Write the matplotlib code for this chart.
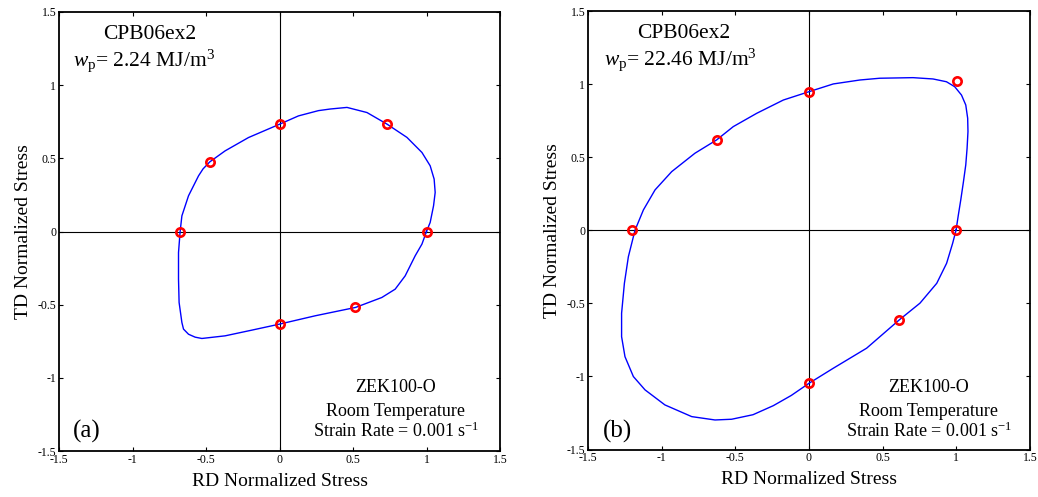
import matplotlib
matplotlib.use("Agg")
import matplotlib.pyplot as plt

plt.rcParams['font.family'] = ['Liberation Serif', 'DejaVu Serif']
plt.rcParams['mathtext.fontset'] = 'custom'
plt.rcParams['mathtext.rm'] = 'Liberation Serif'
plt.rcParams['mathtext.it'] = 'Liberation Serif:italic'
plt.rcParams['mathtext.bf'] = 'Liberation Serif:bold'

# Yield locus (CPB06ex2) at w_p = 2.24 MJ/m^3
locus_a_rd = [1.000, 1.025, 1.048, 1.059, 1.052, 1.025, 0.969, 0.867, 0.731, 0.595,
              0.459, 0.345, 0.265, 0.129, 0.000, -0.211, -0.370, -0.474, -0.520, -0.551,
              -0.619, -0.664, -0.676, -0.687, -0.687, -0.683, -0.664, -0.653, -0.619, -0.574,
              -0.528, -0.370, -0.188, 0.000, 0.243, 0.517, 0.696, 0.787, 0.855, 0.923,
              0.969, 1.000]
locus_a_td = [0.000, 0.062, 0.176, 0.267, 0.358, 0.449, 0.540, 0.643, 0.734, 0.813,
              0.848, 0.837, 0.826, 0.790, 0.733, 0.642, 0.551, 0.476, 0.428, 0.380,
              0.244, 0.107, 0.000, -0.144, -0.326, -0.485, -0.622, -0.667, -0.702, -0.722,
              -0.731, -0.713, -0.674, -0.633, -0.576, -0.519, -0.451, -0.394, -0.303, -0.166,
              -0.086, 0.000]
exp_a_rd = [1.000, 0.731, 0.000, -0.474, -0.676, 0.000, 0.517]
exp_a_td = [0.000, 0.734, 0.733, 0.476, 0.000, -0.633, -0.519]

# Yield locus (CPB06ex2) at w_p = 22.46 MJ/m^3
locus_b_rd = [0.998, 1.013, 1.030, 1.048, 1.064, 1.073, 1.079, 1.077, 1.064, 1.035,
              0.989, 0.933, 0.842, 0.706, 0.480, 0.346, 0.165, 0.000, -0.174, -0.355,
              -0.514, -0.627, -0.774, -0.932, -1.045, -1.124, -1.181, -1.226, -1.253, -1.272,
              -1.272, -1.249, -1.192, -1.113, -0.978, -0.796, -0.638, -0.525, -0.380, -0.242,
              -0.120, 0.000, 0.165, 0.391, 0.613, 0.753, 0.867, 0.934, 0.975, 0.998]
locus_b_td = [0.000, 0.100, 0.207, 0.330, 0.447, 0.561, 0.675, 0.766, 0.857, 0.925,
              0.982, 1.016, 1.035, 1.044, 1.040, 1.028, 1.001, 0.948, 0.891, 0.800,
              0.709, 0.618, 0.527, 0.401, 0.276, 0.139, 0.000, -0.181, -0.363, -0.568,
              -0.728, -0.865, -1.001, -1.092, -1.195, -1.275, -1.298, -1.293, -1.262, -1.200,
              -1.130, -1.047, -0.944, -0.807, -0.613, -0.499, -0.363, -0.226, -0.089, 0.000]
exp_b_rd = [1.000, 1.007, 0.000, -0.627, -1.201, 0.000, 0.613]
exp_b_td = [0.000, 1.021, 0.948, 0.618, 0.000, -1.047, -0.613]

tick_values = [-1.5, -1, -0.5, 0, 0.5, 1, 1.5]
tick_labels = ['-1.5', '-1', '-0.5', '0', '0.5', '1', '1.5']

panels = [
    dict(rect=[59 / 1038, 1 - 451 / 497, 441 / 1038, 439 / 497],
         rd=locus_a_rd, td=locus_a_td, erd=exp_a_rd, etd=exp_a_td,
         wp='2.24', tag='(a)', top_x=0.206, wp_x=0.193, note_x=0.764,
         note_y=[0.135, 0.080, 0.0326], tag_x=0.032, tag_y=0.0296),
    dict(rect=[588 / 1038, 1 - 449.5 / 497, 442 / 1038, 438.5 / 497],
         rd=locus_b_rd, td=locus_b_td, erd=exp_b_rd, etd=exp_b_td,
         wp='22.46', tag='(b)', top_x=0.216, wp_x=0.21, note_x=0.771,
         note_y=[0.132, 0.077, 0.029], tag_x=0.034, tag_y=0.027),
]

fig = plt.figure(figsize=(10.38, 4.97), dpi=100)

for p in panels:
    ax = fig.add_axes(p['rect'])
    ax.set_xlim(-1.5, 1.5)
    ax.set_ylim(-1.5, 1.5)
    ax.axhline(0, color='black', lw=0.8, zorder=1)
    ax.axvline(0, color='black', lw=0.8, zorder=1)
    ax.plot(p['rd'], p['td'], color='#0000FF', lw=1.0, zorder=2)
    ax.plot(p['erd'], p['etd'], linestyle='none', marker='o', markersize=6,
            markerfacecolor='none', markeredgecolor='#FF0000', markeredgewidth=1.9,
            zorder=3)

    ax.set_xticks(tick_values)
    ax.set_xticklabels(tick_labels)
    ax.set_yticks(tick_values)
    ax.set_yticklabels(tick_labels)
    ax.tick_params(direction='in', length=3, width=0.8, labelsize=8.5,
                   top=True, right=True, pad=2)
    for s in ax.spines.values():
        s.set_linewidth(1.3)

    ax.set_xlabel('RD Normalized Stress', fontsize=14, labelpad=5)
    ax.set_ylabel('TD Normalized Stress', fontsize=14, labelpad=4)

    ax.text(p['top_x'], 0.9385, 'CPB06ex2', transform=ax.transAxes,
            ha='center', va='baseline', fontsize=15.5)
    ax.text(p['wp_x'], 0.877, r'$w_{\rm p}$= ' + p['wp'] + r' MJ/m$^{3}$',
            transform=ax.transAxes, ha='center', va='baseline', fontsize=15.5)

    notes = ['ZEK100-O', 'Room Temperature', r'Strain Rate = 0.001 s$^{-1}$']
    for txt, ny in zip(notes, p['note_y']):
        ax.text(p['note_x'], ny, txt, transform=ax.transAxes,
                ha='center', va='baseline', fontsize=13)
    ax.text(p['tag_x'], p['tag_y'], p['tag'], transform=ax.transAxes,
            ha='left', va='baseline', fontsize=18)

fig.savefig('out.png', dpi=100)
